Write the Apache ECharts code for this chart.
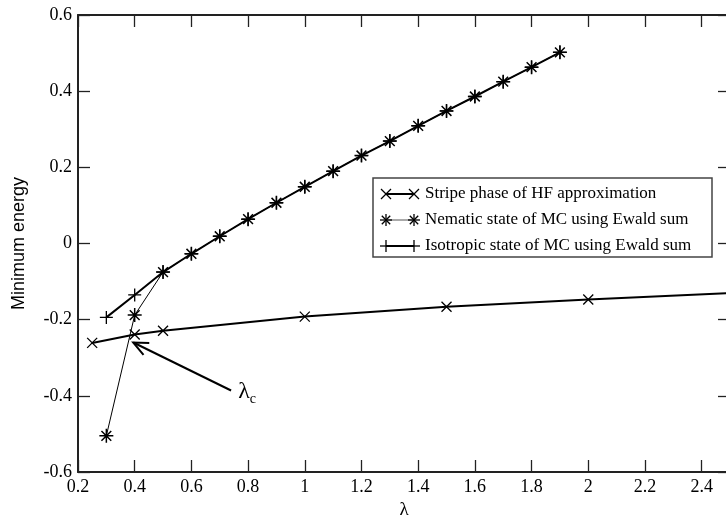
<!DOCTYPE html>
<html>
<head>
<meta charset="utf-8">
<script src="https://cdn.jsdelivr.net/npm/echarts@6/dist/echarts.min.js"></script>
<style>
  html, body { margin: 0; padding: 0; background: #fff; }
  #main { width: 726px; height: 516px; }
</style>
</head>
<body>
<div id="main"></div>
<script>
// data
const seriesNames = [
  'Stripe phase of HF approximation',
  'Nematic state of MC using Ewald sum',
  'Isotropic state of MC using Ewald sum'
];
const stripeX = [0.25, 0.4, 0.5, 1.0, 1.5, 2.0, 2.5];
const stripeY = [-0.261, -0.239, -0.229, -0.192, -0.166, -0.147, -0.130];
const nematicX = [0.3, 0.4, 0.5, 0.6, 0.7, 0.8, 0.9, 1.0, 1.1, 1.2, 1.3, 1.4, 1.5, 1.6, 1.7, 1.8, 1.9];
const nematicY = [-0.505, -0.188, -0.075, -0.027, 0.019, 0.064, 0.107, 0.149, 0.190, 0.231, 0.269, 0.309, 0.348, 0.386, 0.425, 0.463, 0.502];
const isoX = [0.3, 0.4, 0.5, 0.6, 0.7, 0.8, 0.9, 1.0, 1.1, 1.2, 1.3, 1.4, 1.5, 1.6, 1.7, 1.8, 1.9];
const isoY = [-0.194, -0.135, -0.075, -0.027, 0.019, 0.064, 0.107, 0.149, 0.190, 0.231, 0.269, 0.309, 0.348, 0.386, 0.425, 0.463, 0.502];
const xTicks = { min: 0.2, max: 2.5, interval: 0.2 };
const yTicks = { min: -0.6, max: 0.6, interval: 0.2 };
// annotation (data coords): arrow tail, arrow head, label
const arrowTail = [0.74, -0.386];
const arrowHead = [0.395, -0.26];
const labelPos = [0.765, -0.39];

const CROSS = 'path://M0,0L10,10M10,0L0,10';
const ASTER = 'path://M0,5L10,5M5,0L5,10M1.5,1.5L8.5,8.5M8.5,1.5L1.5,8.5';
const PLUS = 'path://M0,5L10,5M5,0L5,10';

const serif = '"Liberation Serif", "DejaVu Serif", serif';

const zip = (xs, ys) => xs.map((x, i) => [x, ys[i]]);

const markStyle = { color: 'rgba(0,0,0,0)', borderColor: '#000', borderWidth: 1.3 };

const axisCommon = (t) => ({
  type: 'value',
  min: t.min,
  max: t.max,
  interval: t.interval,
  axisLine: { onZero: false, lineStyle: { color: '#222', width: 2 } },
  axisTick: { inside: true, length: 12, lineStyle: { color: '#222', width: 1.3 } },
  splitLine: { show: false }
});

const getOption = () => {
  const stripeData = zip(stripeX, stripeY).map((p, i) =>
    i === stripeX.length - 1 ? { value: p, symbol: 'none' } : p);
  return {
    animation: false,
    backgroundColor: '#fff',
    grid: { left: 78, top: 15, width: 652, height: 457, containLabel: false, outerBoundsMode: 'none' },
    xAxis: [
      Object.assign(axisCommon(xTicks), {
        position: 'bottom',
        name: 'λ',
        nameLocation: 'middle',
        nameGap: 27,
        nameTextStyle: { fontFamily: serif, fontSize: 19, color: '#000' },
        axisLabel: {
          fontFamily: serif, fontSize: 18, color: '#000', margin: 6,
          formatter: (v) => (v > 2.45 ? '' : String(+v.toFixed(1)))
        }
      }),
      Object.assign(axisCommon(xTicks), { position: 'top', axisLabel: { show: false } })
    ],
    yAxis: [
      Object.assign(axisCommon(yTicks), {
        position: 'left',
        name: 'Minimum energy',
        nameLocation: 'middle',
        nameGap: 50,
        nameTextStyle: { fontFamily: '"Liberation Sans", Arial, sans-serif', fontSize: 18, color: '#000' },
        axisLabel: {
          fontFamily: serif, fontSize: 18, color: '#000', margin: 6,
          formatter: (v) => String(+v.toFixed(1))
        }
      }),
      Object.assign(axisCommon(yTicks), { position: 'right', axisLabel: { show: false } })
    ],
    series: [
      {
        name: seriesNames[2],
        type: 'line',
        data: zip(isoX, isoY),
        symbol: PLUS,
        symbolSize: 13,
        lineStyle: { color: '#000', width: 2 },
        itemStyle: markStyle,
        z: 2
      },
      {
        name: seriesNames[1],
        type: 'line',
        data: zip(nematicX, nematicY),
        symbol: ASTER,
        symbolSize: 14,
        lineStyle: { color: '#000', width: 1 },
        itemStyle: Object.assign({}, markStyle, { borderWidth: 1.5 }),
        z: 3
      },
      {
        name: seriesNames[0],
        type: 'line',
        data: stripeData,
        symbol: CROSS,
        symbolSize: 10,
        lineStyle: { color: '#000', width: 2 },
        itemStyle: markStyle,
        z: 4
      }
    ]
  };
};

// legend box drawn by hand (xmgrace style: marker at each end of the line)
const markerShapes = (kind, cx, cy, r) => {
  const segs = [];
  if (kind !== 'plus') {
    const d = kind === 'aster' ? r * 0.7 : r;
    segs.push([cx - d, cy - d, cx + d, cy + d], [cx + d, cy - d, cx - d, cy + d]);
  }
  if (kind !== 'cross') {
    segs.push([cx - r, cy, cx + r, cy], [cx, cy - r, cx, cy + r]);
  }
  return segs.map((s) => ({
    type: 'line',
    shape: { x1: s[0], y1: s[1], x2: s[2], y2: s[3] },
    style: { stroke: '#000', lineWidth: 1.3 }
  }));
};

const buildLegend = () => {
  const box = { x: 373, y: 178, w: 339, h: 79 };
  const kinds = ['cross', 'aster', 'plus'];
  const widths = [2, 1, 2];
  const children = [{
    type: 'rect',
    shape: { x: box.x, y: box.y, width: box.w, height: box.h },
    style: { fill: '#fff', stroke: '#444', lineWidth: 1.5 }
  }];
  seriesNames.forEach((name, i) => {
    const cy = box.y + 16 + i * 26;
    children.push({
      type: 'line',
      shape: { x1: 386, y1: cy, x2: 414, y2: cy },
      style: { stroke: i === 1 ? '#555' : '#000', lineWidth: widths[i] }
    });
    const r = kinds[i] === 'cross' ? 5 : 6;
    children.push(...markerShapes(kinds[i], 386, cy, r), ...markerShapes(kinds[i], 414, cy, r));
    children.push({
      type: 'text',
      x: 425, y: cy,
      style: { text: name, fontFamily: serif, fontSize: 17, fill: '#000', textVerticalAlign: 'middle' }
    });
  });
  return { type: 'group', children, z: 100 };
};

const buildArrow = (chart) => {
  const toPx = (p) => chart.convertToPixel({ gridIndex: 0 }, p);
  const t = toPx(arrowTail);
  const h = toPx(arrowHead);
  const l = toPx(labelPos);
  const ang = Math.atan2(t[1] - h[1], t[0] - h[0]);
  const len = 16;
  const spread = 0.42;
  const wing = (a) => [h[0] + len * Math.cos(a), h[1] + len * Math.sin(a)];
  return [
    {
      type: 'line',
      shape: { x1: t[0], y1: t[1], x2: h[0], y2: h[1] },
      style: { stroke: '#000', lineWidth: 2 }, z: 50
    },
    {
      type: 'polyline',
      shape: { points: [wing(ang - spread), h, wing(ang + spread)] },
      style: { stroke: '#000', lineWidth: 2, fill: null }, z: 50
    },
    {
      type: 'text',
      x: l[0], y: l[1],
      style: {
        text: '{l|λ}{s|c}',
        textVerticalAlign: 'middle',
        rich: {
          l: { fontFamily: serif, fontSize: 24, fill: '#000' },
          s: { fontFamily: serif, fontSize: 14, fill: '#000', padding: [14, 0, 0, 0] }
        }
      }, z: 50
    }
  ];
};

const element = document.getElementById('main');
const myChart = echarts.init(element, null, { renderer: 'canvas' });
myChart.setOption(getOption());
myChart.setOption({ graphic: [buildLegend(), ...buildArrow(myChart)] });
</script>
</body>
</html>
